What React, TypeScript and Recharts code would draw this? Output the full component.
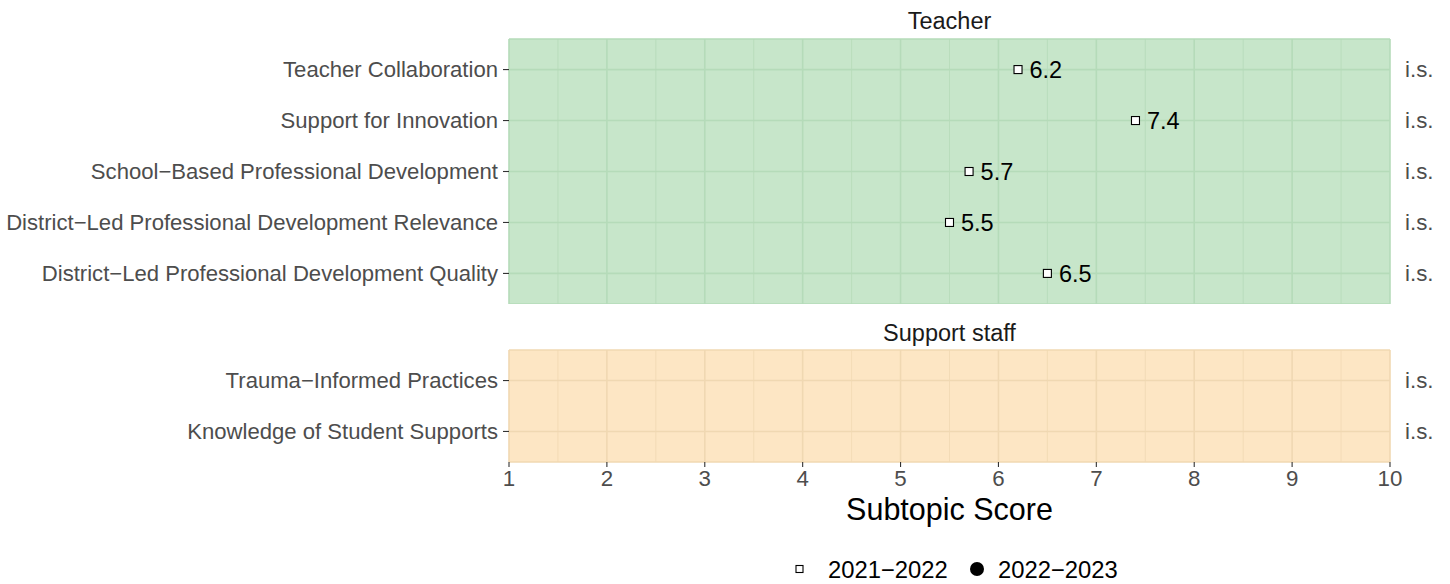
import {
  ScatterChart,
  Scatter,
  XAxis,
  YAxis,
  CartesianGrid,
  ReferenceLine,
} from "recharts";

const teacherTopics = [
  "Teacher Collaboration",
  "Support for Innovation",
  "School−Based Professional Development",
  "District−Led Professional Development Relevance",
  "District−Led Professional Development Quality",
];
const teacherScores2122 = [6.2, 7.4, 5.7, 5.5, 6.5];

const staffTopics = ["Trauma−Informed Practices", "Knowledge of Student Supports"];
const staffScores2122: (number | null)[] = [null, null];

const sampleNote = "i.s.";
const xTicks = [1, 2, 3, 4, 5, 6, 7, 8, 9, 10];
const minorBreaks = [1.5, 2.5, 3.5, 4.5, 5.5, 6.5, 7.5, 8.5, 9.5];
const years = ["2021−2022", "2022−2023"];

const FONT = "'Liberation Sans', Arial, Helvetica, sans-serif";

const toRows = (topics: string[], scores: (number | null)[]) =>
  topics
    .map((t, i) => ({ topic: t, y: i, x: scores[i] }))
    .filter((d) => d.x != null);

const SquarePoint = (props: any) => {
  const { cx, cy, payload } = props;
  if (!Number.isFinite(cx) || !Number.isFinite(cy)) return null;
  return (
    <g>
      <rect x={cx - 4} y={cy - 4} width={8} height={8} fill="#fff" stroke="#000" strokeWidth={1.1} />
      <text x={cx + 11.5} y={cy} dy="0.36em" fontSize={23.5} fontFamily={FONT} fill="#000">
        {payload.x.toFixed(1)}
      </text>
    </g>
  );
};

function Facet({
  topics,
  scores,
  top,
  height,
  bg,
  line,
  showX,
}: {
  topics: string[];
  scores: (number | null)[];
  top: number;
  height: number;
  bg: string;
  line: string;
  showX: boolean;
}) {
  const n = topics.length;
  const yTicks = topics.map((_, i) => i);
  return (
    <div style={{ position: "absolute", left: 0, top: 0 }}>
      <ScatterChart width={1450} height={height} margin={{ top, right: 0, bottom: 0, left: 0 }}>
        <CartesianGrid fill={bg} stroke="none" horizontal={false} vertical={false} />
        {minorBreaks.map((b) => (
          <ReferenceLine key={b} x={b} stroke={line} strokeWidth={0.8} />
        ))}
        <CartesianGrid stroke={line} strokeWidth={1.6} />
        <XAxis
          type="number"
          dataKey="x"
          domain={[1, 10]}
          allowDataOverflow
          ticks={xTicks}
          hide={!showX}
          height={showX ? 68 : 0}
          tickSize={5}
          tickMargin={3}
          axisLine={false}
          tickLine={{ stroke: "#333", strokeWidth: 1.1 }}
          tick={{ fill: "#4d4d4d", fontSize: 22.3, fontFamily: FONT }}
          interval={0}
        />
        <YAxis
          type="number"
          dataKey="y"
          domain={[-0.6, n - 1 + 0.6]}
          allowDataOverflow
          ticks={yTicks}
          reversed
          width={509}
          tickSize={6}
          tickMargin={5}
          axisLine={false}
          interval={0}
          tickLine={{ stroke: "#333", strokeWidth: 1.1 }}
          tick={{ fill: "#4d4d4d", fontSize: 22.1, fontFamily: FONT }}
          tickFormatter={(v: number) => topics[v] ?? ""}
        />
        <YAxis
          yAxisId="note"
          orientation="right"
          type="number"
          domain={[-0.6, n - 1 + 0.6]}
          allowDataOverflow
          ticks={yTicks}
          reversed
          width={60}
          tickSize={0}
          tickMargin={15}
          axisLine={false}
          tickLine={false}
          interval={0}
          tick={{ fill: "#4d4d4d", fontSize: 22.3, fontFamily: FONT }}
          tickFormatter={() => sampleNote}
        />
        <Scatter
          name={years[0]}
          data={toRows(topics, scores)}
          shape={SquarePoint}
          isAnimationActive={false}
        />
        <Scatter name={years[1]} data={[]} fill="#000" isAnimationActive={false} />
      </ScatterChart>
    </div>
  );
}

export default function App() {
  return (
    <div style={{ position: "relative", width: 1450, height: 584, fontFamily: FONT }}>
      <style>{`body{margin:0}`}</style>
      <Facet
        topics={teacherTopics}
        scores={teacherScores2122}
        top={39}
        height={304}
        bg="#C7E6CA"
        line="#B5DBB9"
        showX={false}
      />
      <Facet
        topics={staffTopics}
        scores={staffScores2122}
        top={350}
        height={530}
        bg="#FDE6C4"
        line="#F0D8B2"
        showX={true}
      />
      <svg
        width={1450}
        height={584}
        style={{ position: "absolute", left: 0, top: 0, pointerEvents: "none" }}
        fontFamily={FONT}
      >
        <text x={949.5} y={28.5} textAnchor="middle" fontSize={23.5} fill="#1a1a1a">
          Teacher
        </text>
        <text x={949.5} y={340.5} textAnchor="middle" fontSize={23.5} fill="#1a1a1a">
          Support staff
        </text>
        <text x={949.5} y={520} textAnchor="middle" fontSize={30.5} fill="#000">
          Subtopic Score
        </text>
        <rect x={796} y={565.5} width={7} height={7} fill="#fff" stroke="#000" strokeWidth={1.1} />
        <text x={828} y={569} dy="0.36em" fontSize={23.8} fill="#000">
          {years[0]}
        </text>
        <circle cx={977} cy={569} r={7} fill="#000" />
        <text x={998} y={569} dy="0.36em" fontSize={23.8} fill="#000">
          {years[1]}
        </text>
      </svg>
    </div>
  );
}
